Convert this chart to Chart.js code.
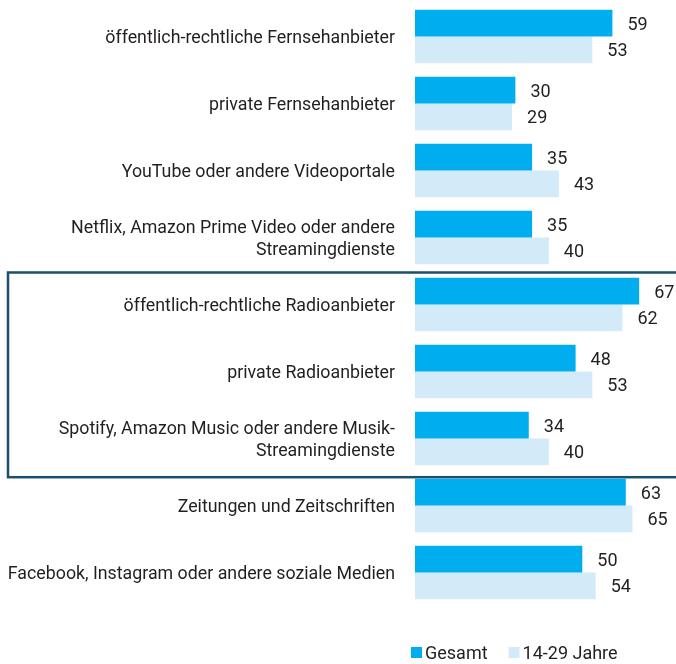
<!DOCTYPE html>
<html>
<head>
<meta charset="utf-8">
<script src="https://cdn.jsdelivr.net/npm/chart.js@4"></script>
<style>
    body { margin: 0; background: #fff; }
    #wrap { width: 676px; height: 664px; }
</style>
</head>
<body>
<div id="wrap"><canvas id="mediaChart"></canvas></div>
<script>
//data
const categories = [
    "öffentlich-rechtliche Fernsehanbieter",
    "private Fernsehanbieter",
    "YouTube oder andere Videoportale",
    ["Netflix, Amazon Prime Video oder andere", "Streamingdienste"],
    "öffentlich-rechtliche Radioanbieter",
    "private Radioanbieter",
    ["Spotify, Amazon Music oder andere Musik-", "Streamingdienste"],
    "Zeitungen und Zeitschriften",
    "Facebook, Instagram oder andere soziale Medien"
];
const gesamt = [59, 30, 35, 35, 67, 48, 34, 63, 50];
const jung = [53, 29, 43, 40, 62, 53, 40, 65, 54];
const seriesNames = ["Gesamt", "14-29 Jahre"];
const boxedRange = [4, 6];

const FONT = "Roboto, 'Liberation Sans', sans-serif";
const TEXT = "#231f20";
const colors = ["#00aeef", "#d3ebf8"];

//frame around the radio group
const framePlugin = {
    id: "frame",
    beforeDatasetsDraw(chart) {
        const y = chart.scales.y;
        const step = y.getPixelForValue(1) - y.getPixelForValue(0);
        const top = y.getPixelForValue(boxedRange[0]) - step / 2 + 1.5;
        const bottom = y.getPixelForValue(boxedRange[1] + 1) - step * 0.4 - 1.5;
        const ctx = chart.ctx;
        ctx.save();
        ctx.strokeStyle = "#1b4f6b";
        ctx.lineWidth = 2.5;
        ctx.strokeRect(8, top, chart.width + 10, bottom - top);
        ctx.restore();
    }
};

//value labels next to bars
const valuePlugin = {
    id: "values",
    afterDatasetsDraw(chart) {
        const ctx = chart.ctx;
        ctx.save();
        ctx.font = "18px " + FONT;
        ctx.fillStyle = TEXT;
        ctx.textBaseline = "middle";
        ctx.textAlign = "left";
        chart.data.datasets.forEach((ds, i) => {
            chart.getDatasetMeta(i).data.forEach((bar, j) => {
                ctx.fillText(ds.data[j], bar.x + 15, bar.y + 2);
            });
        });
        ctx.restore();
    }
};

//legend at the bottom
const legendPlugin = {
    id: "ownLegend",
    afterDraw(chart) {
        const ctx = chart.ctx;
        ctx.save();
        ctx.font = "18px " + FONT;
        ctx.textBaseline = "middle";
        let x = 411;
        const y = 653;
        chart.data.datasets.forEach(ds => {
            ctx.fillStyle = ds.backgroundColor;
            ctx.fillRect(x, y - 6, 11, 11);
            ctx.fillStyle = TEXT;
            ctx.fillText(ds.label, x + 14, y + 1);
            x += 14 + ctx.measureText(ds.label).width + 21;
        });
        ctx.restore();
    }
};

new Chart(document.getElementById("mediaChart"), {
    type: "bar",
    data: {
        labels: categories,
        datasets: [
            { label: seriesNames[0], data: gesamt, backgroundColor: colors[0] },
            { label: seriesNames[1], data: jung, backgroundColor: colors[1] }
        ]
    },
    options: {
        indexAxis: "y",
        responsive: true,
        maintainAspectRatio: false,
        animation: false,
        categoryPercentage: 0.8,
        barPercentage: 1.0,
        layout: { padding: { top: 3, bottom: 58, left: 0, right: 0 } },
        plugins: {
            legend: { display: false },
            tooltip: { enabled: false }
        },
        scales: {
            x: { display: false, min: 0, max: 78 },
            y: {
                grid: { display: false, drawTicks: false },
                border: { display: false },
                ticks: {
                    color: TEXT,
                    padding: 20,
                    labelOffset: 2,
                    font: { family: FONT, size: 17.8, lineHeight: 1.28 }
                },
                afterFit(scale) {
                    scale.width = 415;
                    scale.paddingTop = 0;
                    scale.paddingBottom = 0;
                }
            }
        }
    },
    plugins: [framePlugin, valuePlugin, legendPlugin]
});
</script>
</body>
</html>
